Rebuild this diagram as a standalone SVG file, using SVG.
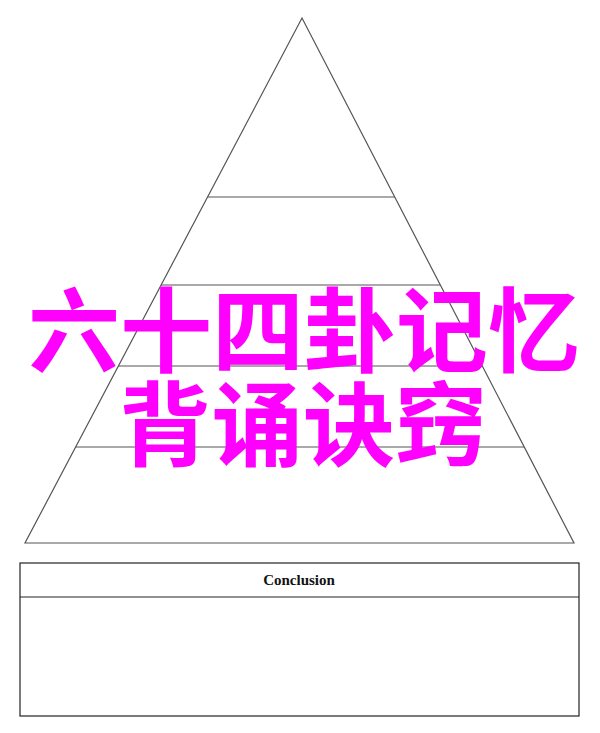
<svg xmlns="http://www.w3.org/2000/svg" width="600" height="733" viewBox="0 0 600 733">
<style>
.edge{fill:none;stroke:#555;stroke-width:1.2}
.box{fill:#fff;stroke:#222;stroke-width:1.2}
.title{font-family:"Liberation Serif",serif;font-weight:bold;font-size:15px;fill:#111}
.big{font-family:"Noto Sans CJK SC",sans-serif;font-weight:bold;font-size:92px;fill:#ff00ff}
</style>
<rect width="600" height="733" fill="#fff"/>
<g id="pyramid">
<polygon class="edge" points="302,18 25,543 574,543"/>
</g>
<g id="connectors">
<line class="edge" x1="208" y1="197" x2="395" y2="197"/>
<line class="edge" x1="161" y1="285" x2="440" y2="285"/>
<line class="edge" x1="118" y1="366" x2="482" y2="366"/>
<line class="edge" x1="76" y1="447" x2="524" y2="447"/>
</g>
<g id="conclusion">
<rect class="box" x="20" y="563" width="559" height="153"/>
<line class="box" x1="20" y1="597" x2="579" y2="597"/>
<text class="title" x="299" y="585" text-anchor="middle">Conclusion</text>
</g>
<g id="overlay-title">
<text class="big" x="304" y="365" text-anchor="middle">六十四卦记忆</text>
<text class="big" x="303" y="459" text-anchor="middle">背诵诀窍</text>
</g>
</svg>
